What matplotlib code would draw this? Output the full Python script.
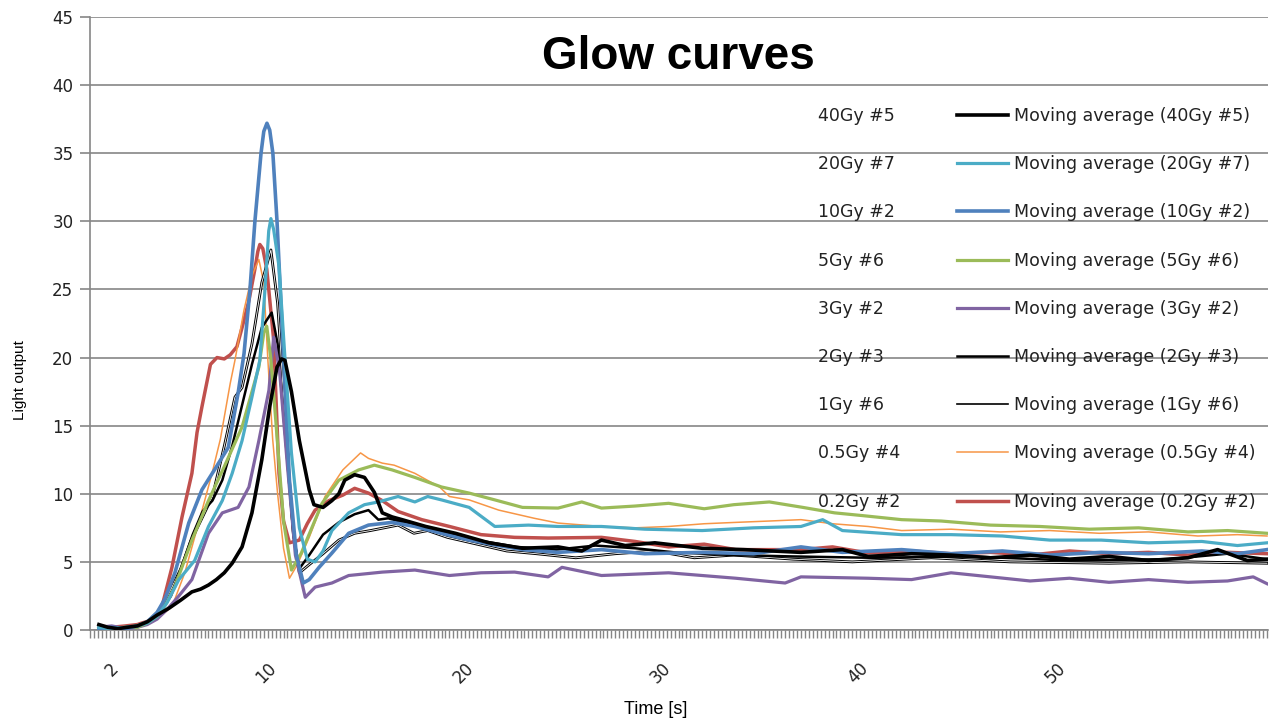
import matplotlib
matplotlib.use("Agg")
import matplotlib.pyplot as plt
from matplotlib.lines import Line2D
from matplotlib.ticker import MultipleLocator
import matplotlib.patheffects as pe

# readings from the picture: time [s] and light output of each moving average
t_40gy = [0.85, 1.3, 1.8, 2.3, 2.8, 3.3, 3.8, 4.4, 5.0, 5.56, 6.0, 6.4, 6.8, 7.2, 7.6, 8.1, 8.6, 9.1, 9.5,
          9.87, 10.1, 10.27, 10.6, 11.0, 11.5, 11.74, 12.2, 12.65, 13.0, 13.3, 13.8, 14.3, 14.8, 15.2, 15.7,
          16.2, 17.4, 18.9, 20.6, 22.3, 24.1, 25.3, 26.3, 27.5, 29.0, 31.4, 33.5, 36.4, 38.5, 39.8, 42, 44,
          46, 48, 50, 52, 54, 56, 57.5, 59, 60.0]
v_40gy = [0.4, 0.2, 0.1, 0.2, 0.3, 0.6, 1.1, 1.6, 2.2, 2.8, 3.0, 3.3, 3.7, 4.2, 4.9, 6.1, 8.6, 12.5, 16.4,
          19.3, 19.9, 19.8, 17.5, 13.9, 10.3, 9.2, 9.0, 9.5, 10.0, 11.0, 11.4, 11.2, 10.1, 8.6, 8.3,
          8.1, 7.6, 7.1, 6.4, 6.0, 6.1, 5.8, 6.6, 6.2, 6.4, 6.0, 5.9, 5.7, 5.9, 5.4, 5.6, 5.5,
          5.3, 5.5, 5.2, 5.4, 5.1, 5.3, 5.9, 5.1, 5.2]

t_20gy = [0.85, 1.5, 2.2, 2.8, 3.3, 3.8, 4.3, 4.9, 5.7, 6.4, 7.1, 7.6, 8.1, 8.6, 9.0, 9.26, 9.45, 9.56, 9.7,
          9.97, 10.27, 10.6, 11.0, 11.4, 11.8, 12.2, 12.65, 13.5, 14.3, 15.0, 16.0, 16.85, 17.5, 18.2, 19.6,
          20.9, 22.6, 24.1, 26.3, 28.5, 31.4, 34, 36.4, 37.5, 38.5, 41.5, 44, 46.6, 49, 51.6, 54, 56.7,
          58.5, 60.0]
v_20gy = [0.2, 0.1, 0.2, 0.3, 0.5, 1.0, 2.0, 3.7, 5.1, 7.6, 9.5, 11.5, 13.9, 17.1, 19.8, 25.0, 29.3, 30.2, 29.4,
          26.7, 20.0, 13.0, 7.5, 5.2, 5.0, 5.8, 7.3, 8.6, 9.2, 9.4, 9.8, 9.4, 9.8, 9.55, 9.0,
          7.6, 7.7, 7.6, 7.6, 7.4, 7.3, 7.5, 7.6, 8.1, 7.3, 7.0, 7.0, 6.9, 6.6, 6.6, 6.4, 6.5,
          6.2, 6.4]

t_10gy = [0.85, 1.5, 2.2, 2.8, 3.3, 3.8, 4.2, 4.7, 5.4, 6.07, 6.7, 7.4, 7.9, 8.2, 8.5, 8.75, 9.06, 9.2, 9.36,
          9.5, 9.66, 9.87, 10.2, 10.5, 10.85, 11.2, 11.5, 12.0, 12.65, 13.5, 14.5, 15.7, 16.85, 18.2, 19.6,
          20.9, 22.3, 24.1, 26.3, 28.5, 31.4, 34, 36.4, 38.5, 41.5, 44, 46.6, 49, 51.6, 54, 56.7, 58.5, 60.0]
v_10gy = [0.1, 0.2, 0.1, 0.3, 0.6, 1.3, 2.3, 4.2, 7.85, 10.3, 11.75, 13.4, 17.4, 20.3, 25.0, 30.0, 35.0, 36.6, 37.2,
          36.7, 35.0, 30.0, 20.0, 11.0, 5.5, 3.45, 3.7, 4.6, 5.65, 7.1, 7.7, 7.9, 7.6, 7.1, 6.6,
          6.25, 5.9, 5.7, 5.9, 5.6, 5.7, 5.6, 6.1, 5.7, 5.9, 5.6, 5.8, 5.5, 5.7, 5.6, 5.8, 5.6, 5.9]

t_5gy = [0.85, 1.5, 2.2, 2.8, 3.3, 3.8, 4.2, 4.7, 5.56, 6.4, 7.2, 8.1, 8.95, 9.2, 9.35, 9.55, 9.8, 10.2, 10.6,
         11.1, 12.15, 13.0, 14.0, 14.8, 15.7, 16.85, 18.2, 19.6, 20.9, 22.3, 24.1, 25.3, 26.3, 28, 29.7, 31.5,
         33, 34.8, 36.5, 38.1, 39.5, 41.5, 43.5, 46, 48.5, 51, 53.5, 56, 58, 60.0]
v_5gy = [0.2, 0.1, 0.2, 0.2, 0.5, 1.0, 1.8, 3.2, 6.6, 9.5, 12.0, 14.9, 19.3, 21.8, 22.3, 20.0, 15.5, 8.0, 4.4,
         5.65, 9.3, 11.0, 11.75, 12.1, 11.75, 11.2, 10.5, 10.05, 9.55, 9.0, 8.95, 9.4, 8.95, 9.1, 9.3, 8.9,
         9.2, 9.4, 9.0, 8.6, 8.4, 8.1, 8.0, 7.7, 7.6, 7.4, 7.5, 7.2, 7.3, 7.1]

t_3gy = [0.85, 1.5, 2.2, 2.8, 3.3, 3.8, 4.3, 4.9, 5.56, 6.4, 7.1, 7.9, 8.45, 8.95, 9.46, 9.7, 10.0, 10.4, 10.8,
         11.3, 11.8, 12.65, 13.5, 15.2, 16.85, 18.6, 20.2, 21.9, 23.6, 24.3, 26.3, 29.7, 33.1, 35.6, 36.4,
         39.8, 42, 44, 46, 48, 50, 52, 54, 56, 58, 59.3, 60.0]
v_3gy = [0.2, 0.3, 0.1, 0.2, 0.4, 0.8, 1.5, 2.5, 3.7, 7.1, 8.6, 9.0, 10.5, 13.9, 17.6, 21.5, 19.0, 12.0, 5.5,
         2.4, 3.15, 3.45, 4.0, 4.25, 4.4, 4.0, 4.2, 4.25, 3.9, 4.6, 4.0, 4.2, 3.8, 3.45, 3.9,
         3.8, 3.7, 4.2, 3.9, 3.6, 3.8, 3.5, 3.7, 3.5, 3.6, 3.9, 3.4]

t_2gy = [0.85, 1.5, 2.2, 2.8, 3.5, 4.0, 4.5, 5.0, 5.6, 6.1, 6.6, 7.1, 7.6, 8.1, 8.6, 9.1, 9.6, 9.9, 10.3, 10.7,
         11.0, 11.5, 12.2, 13.0, 13.8, 14.5, 15.0, 15.5, 16.5, 18, 20, 22, 24, 26, 28, 30, 33, 36, 40, 45,
         50, 55, 58, 60]
v_2gy = [0.3, 0.2, 0.1, 0.3, 0.6, 1.4, 2.5, 4.5, 7.0, 8.7, 9.5, 11.0, 13.5, 16.5, 19.5, 22.2, 23.3, 21.0, 14.0, 7.0,
         4.5, 5.5, 7.0, 7.9, 8.5, 8.8, 8.1, 8.2, 7.8, 7.2, 6.6, 6.1, 5.9, 6.2, 6.0, 5.7, 5.5, 5.4, 5.3, 5.4,
         5.1, 5.2, 5.6, 5.2]

t_1gy = [0.85, 1.5, 2.2, 2.8, 3.5, 4.0, 4.5, 5.0, 5.5, 6.0, 6.6, 7.2, 7.74, 8.1, 8.6, 9.1, 9.56, 9.9, 10.3, 10.7,
         11.0, 11.5, 12.2, 13.0, 13.8, 14.6, 15.3, 16.0, 16.8, 17.5, 18.5, 20, 21.5, 23, 25, 27, 29, 31, 33,
         36, 39, 43, 47, 52, 56, 60]
v_1gy = [0.3, 0.1, 0.2, 0.3, 0.7, 1.6, 3.0, 4.5, 6.5, 8.0, 9.8, 13.5, 17.1, 17.8, 21.0, 25.5, 27.9, 24.0, 15.0, 7.0,
         4.2, 4.8, 5.6, 6.6, 7.1, 7.3, 7.5, 7.7, 7.1, 7.3, 6.8, 6.3, 5.8, 5.6, 5.3, 5.6, 5.8, 5.3, 5.5,
         5.2, 5.0, 5.3, 5.0, 4.9, 5.0, 4.9]

t_05gy = [0.85, 1.5, 2.2, 2.8, 3.3, 3.8, 4.2, 4.55, 5.2, 5.9, 6.58, 7.0, 7.5, 7.74, 8.2, 8.6, 8.95, 9.2, 9.4,
          9.65, 9.9, 10.2, 10.5, 10.9, 11.5, 12.3, 13.2, 14.1, 14.5, 15.2, 15.8, 16.85, 18.1, 18.6, 19.6,
          21.1, 22.9, 24.1, 26.3, 28, 29.7, 31.5, 33.1, 34.8, 36.4, 38, 39.8, 41.5, 44, 46.5, 49, 51.5, 54,
          56.5, 58.5, 60.0]
v_05gy = [0.2, 0.1, 0.2, 0.4, 0.6, 1.0, 1.3, 1.7, 4.2, 7.85, 11.5, 14.0, 18.1, 19.8, 23.5, 26.0, 27.2, 25.5, 20.0,
          14.0, 10.0, 6.0, 3.8, 4.8, 6.8, 9.8, 11.75, 13.0, 12.6, 12.25, 12.1, 11.5, 10.5, 9.8, 9.55,
          8.8, 8.2, 7.85, 7.6, 7.5, 7.6, 7.8, 7.9, 8.0, 8.1, 7.8, 7.6, 7.3, 7.4, 7.2, 7.3, 7.1, 7.2,
          6.9, 7.0, 6.9]

t_02gy = [0.85, 1.5, 2.2, 2.8, 3.0, 3.54, 4.04, 4.55, 5.06, 5.56, 5.82, 6.07, 6.5, 6.83, 7.2, 7.5, 7.84, 8.1,
          8.45, 8.75, 8.9, 9.0, 9.15, 9.35, 9.7, 9.97, 10.2, 10.5, 11.0, 11.4, 11.8, 12.5, 13.2, 13.8, 14.5,
          15.2, 16.0, 17.2, 18.6, 20.2, 21.9, 23.6, 26.3, 28, 29.7, 31.5, 33.1, 36.4, 38, 39.8, 42, 44, 46,
          48, 50, 52, 54, 56, 58, 60.0]
v_02gy = [0.3, 0.2, 0.3, 0.4, 0.5, 0.73, 1.7, 4.6, 8.3, 11.5, 14.5, 16.4, 19.5, 20.0, 19.9, 20.2, 20.8, 22.2,
          24.2, 26.5, 27.8, 28.3, 28.0, 26.5, 21.3, 11.5, 8.0, 6.4, 6.6, 7.8, 8.8, 9.5, 9.9, 10.4, 10.05,
          9.5, 8.7, 8.1, 7.6, 7.0, 6.8, 6.75, 6.8, 6.5, 6.1, 6.3, 5.9, 5.9, 6.1, 5.65, 5.8, 5.6, 5.7,
          5.5, 5.8, 5.6, 5.7, 5.5, 5.7, 5.6]

names = ["40Gy #5", "20Gy #7", "10Gy #2", "5Gy #6", "3Gy #2", "2Gy #3", "1Gy #6", "0.5Gy #4", "0.2Gy #2"]
times = [t_40gy, t_20gy, t_10gy, t_5gy, t_3gy, t_2gy, t_1gy, t_05gy, t_02gy]
values = [v_40gy, v_20gy, v_10gy, v_5gy, v_3gy, v_2gy, v_1gy, v_05gy, v_02gy]
colors = ["#000000", "#4BACC6", "#4F81BD", "#9BBB59", "#8064A2", "#000000", "#000000", "#F79646", "#C0504D"]
widths = [2.6, 2.3, 2.6, 2.3, 2.3, 1.8, 0.9, 1.1, 2.5]
x_labels = [2, 10, 20, 30, 40, 50]

fig = plt.figure(figsize=(12.69, 7.2), dpi=100)
ax = fig.add_axes([90 / 1269, 90 / 720, 1178 / 1269, 613 / 720])

for i in range(len(names)):
    line, = ax.plot(times[i], values[i], color=colors[i], lw=widths[i], zorder=3 + (8 - i) * 0.1)
    if names[i] == "1Gy #6":
        # drawn as a hollow thin line, like in the original
        line.set_color("white")
        line.set_linewidth(0.6)
        line.set_path_effects([pe.Stroke(linewidth=2.0, foreground="black"), pe.Normal()])

ax.set_xlim(0.4, 60.05)
ax.set_ylim(0, 45)
ax.set_yticks(range(0, 46, 5))
ax.set_xticks(x_labels)
ax.set_xticklabels([str(v) for v in x_labels], rotation=45, ha="right", va="top")
ax.xaxis.set_minor_locator(MultipleLocator(0.2))

ax.grid(axis="y", color="#868686", lw=1.2)
ax.set_axisbelow(True)
for s in ["top", "right"]:
    ax.spines[s].set_visible(False)
for s in ["left", "bottom"]:
    ax.spines[s].set_color("#868686")
    ax.spines[s].set_linewidth(1.2)

ax.tick_params(axis="y", length=7, width=1.2, color="#868686", labelsize=12, labelcolor="#222222", pad=5)
ax.tick_params(axis="x", which="both", length=6, width=1.0, color="#868686")
ax.tick_params(axis="x", which="major", labelsize=12, labelcolor="#222222", pad=15)
for lab in ax.get_yticklabels() + ax.get_xticklabels():
    lab.set_family("DejaVu Sans")

fig.text(678 / 1269, 1 - 57 / 720, "Glow curves", ha="center", va="center",
         fontsize=33, fontweight="bold", family="Liberation Sans")
fig.text(20 / 1269, 1 - 380 / 720, "Light output", rotation=90, ha="center", va="center",
         fontsize=11, family="Liberation Sans")
fig.text(656 / 1269, 1 - 710 / 720, "Time [s]", ha="center", va="center",
         fontsize=13, family="Liberation Sans")

# legend: the raw series have no line, so their entries show only text
handles = [Line2D([], [], linestyle="none") for n in names]
handles += [Line2D([], [], color=colors[i], lw=widths[i] if widths[i] > 1 else 1.2) for i in range(len(names))]
labels = names + ["Moving average (%s)" % n for n in names]
leg = ax.legend(handles, labels, ncol=2, loc="upper left", frameon=False,
                bbox_to_anchor=(761 / 1269, 1 - 107 / 720), bbox_transform=fig.transFigure,
                borderpad=0, borderaxespad=0, handlelength=2.95, handletextpad=0.35,
                columnspacing=3.25, labelspacing=1.74, prop={"family": "DejaVu Sans", "size": 12.5})
for txt in leg.get_texts():
    txt.set_color("#222222")

fig.savefig("out.png", dpi=100)
